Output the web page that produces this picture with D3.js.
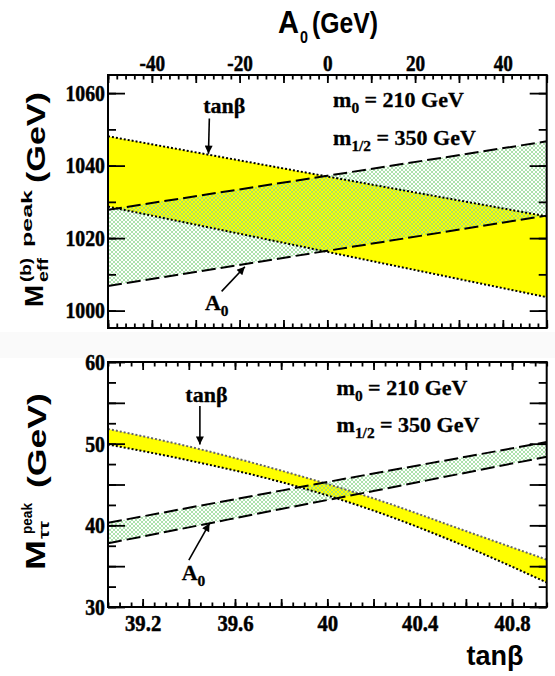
<!DOCTYPE html>
<html><head><meta charset="utf-8">
<script src="https://cdn.jsdelivr.net/npm/d3@7"></script>
<style>
body{margin:0;background:#fff;}
svg{display:block;}
</style></head><body>
<script>
// ---------- DATA ----------
// Top panel: x = A0 (GeV), y = M_eff^(b) peak (GeV)
const topA0 = [-50, 0, 50];
const topTanbUpper = [1048.1, 1037.0, 1026.0];   // dotted (tanβ band) upper edge
const topTanbLower = [1028.7, 1016.2, 1003.7];   // dotted lower edge
const topA0Upper   = [1027.8, 1037.2, 1046.7];   // dashed (A0 band) upper edge
const topA0Lower   = [1006.8, 1016.5, 1026.2];   // dashed lower edge

// Bottom panel: x = tanβ, y = M_ττ peak (GeV)
const botTanb      = [39.05, 39.4, 39.8, 40.2, 40.6, 40.95];
const botTanbUpper = [51.8, 49.65, 46.7, 43.3, 39.3, 35.8];
const botTanbLower = [49.9, 47.95, 45.3, 41.8, 37.4, 33.0];
const botA0Upper   = [40.3, 42.15, 44.25, 46.35, 48.4, 50.2];
const botA0Lower   = [37.8, 39.75, 42.0, 44.2, 46.45, 48.4];

// Tick labels
const topXTicks = [-40, -20, 0, 20, 40];
const topYTicks = [1000, 1020, 1040, 1060];
const botXTicks = [39.2, 39.6, 40, 40.4, 40.8];
const botYTicks = [30, 40, 50, 60];

// ---------- LAYOUT ----------
const W = 555, H = 676;
const L = 108, R = 546.7;
const svg = d3.select("body").append("svg").attr("width", W).attr("height", H);

// faint separator strip between panels
svg.append("rect").attr("x", 0).attr("y", 332).attr("width", W).attr("height", 26).attr("fill", "#fafafa");

const xTop = d3.scaleLinear().domain([-50, 50]).range([L, R]);
const yTop = d3.scaleLinear().domain([995.2, 1065]).range([328, 75]);
const xBot = d3.scaleLinear().domain([39.05, 40.95]).range([L, R]);
const yBot = d3.scaleLinear().domain([30, 60]).range([607, 362]);

const defs = svg.append("defs");
const pat = defs.append("pattern").attr("id", "hatch").attr("patternUnits", "userSpaceOnUse")
  .attr("width", 4).attr("height", 4);
pat.append("path").attr("d", "M0,0L4,4M4,0L0,4").attr("stroke", "#8ad68a").attr("stroke-width", 0.7).attr("fill", "none");

defs.append("marker").attr("id", "arrow").attr("viewBox", "0 0 10 10").attr("refX", 10).attr("refY", 5)
  .attr("markerWidth", 10).attr("markerHeight", 8).attr("markerUnits", "userSpaceOnUse").attr("orient", "auto")
  .append("path").attr("d", "M0,0L10,5L0,10z").attr("fill", "#000");

defs.append("clipPath").attr("id", "clipTop").append("rect")
  .attr("x", L).attr("y", 75).attr("width", R - L).attr("height", 253);
defs.append("clipPath").attr("id", "clipBot").append("rect")
  .attr("x", L).attr("y", 362).attr("width", R - L).attr("height", 245);

const zip = (xs, a, b) => xs.map((x, i) => ({x, a: a[i], b: b[i]}));

function drawPanel(clipId, xs, xScale, yScale, tU, tL, aU, aL, curve, upperDotColor) {
  const g = svg.append("g").attr("clip-path", `url(#${clipId})`);
  const tb = zip(xs, tL, tU), ab = zip(xs, aL, aU);
  const area = d3.area().curve(curve).x(d => xScale(d.x)).y0(d => yScale(d.a)).y1(d => yScale(d.b));
  g.append("path").datum(tb).attr("d", area).attr("fill", "#ffff00");
  g.append("path").datum(ab).attr("d", area).attr("fill", "url(#hatch)");
  const line = (key) => d3.line().curve(curve).x(d => xScale(d.x)).y(d => yScale(d[key]));
  g.append("path").datum(tb).attr("d", line("b")).attr("fill", "none")
    .attr("stroke", upperDotColor).attr("stroke-width", 2).attr("stroke-dasharray", "2,2");
  g.append("path").datum(tb).attr("d", line("a")).attr("fill", "none")
    .attr("stroke", "#000").attr("stroke-width", 2).attr("stroke-dasharray", "2,2");
  g.append("path").datum(ab).attr("d", line("b")).attr("fill", "none")
    .attr("stroke", "#000").attr("stroke-width", 2).attr("stroke-dasharray", "14,5");
  g.append("path").datum(ab).attr("d", line("a")).attr("fill", "none")
    .attr("stroke", "#000").attr("stroke-width", 2).attr("stroke-dasharray", "14,5");
}

drawPanel("clipTop", topA0, xTop, yTop, topTanbUpper, topTanbLower, topA0Upper, topA0Lower, d3.curveLinear, "#000");
drawPanel("clipBot", botTanb, xBot, yBot, botTanbUpper, botTanbLower, botA0Upper, botA0Lower, d3.curveMonotoneX, "#666");

// ---------- TICKS ----------
function tickMarks(axisFn, scale, values, size, tx, ty) {
  const g = svg.append("g").attr("transform", `translate(${tx},${ty})`)
    .call(axisFn(scale).tickValues(values).tickSize(size).tickFormat(""));
  g.select(".domain").remove();
  g.selectAll("line").attr("stroke", "#000").attr("stroke-width", 1.8);
}
const rangeStep = (a, b, s) => d3.range(Math.round((b - a) / s) + 1).map(i => +(a + i * s).toFixed(4));

// top panel x ticks (A0)
const a0Minor = rangeStep(-50, 50, 2), a0Major = rangeStep(-50, 50, 10);
tickMarks(d3.axisBottom, xTop, a0Minor, 4.5, 0, 75);
tickMarks(d3.axisBottom, xTop, a0Major, 8, 0, 75);
tickMarks(d3.axisTop, xTop, a0Minor, 4.5, 0, 328);
tickMarks(d3.axisTop, xTop, a0Major, 8, 0, 328);
// top panel y ticks
const mMinor = rangeStep(1000, 1060, 10), mMajor = rangeStep(1000, 1060, 20);
tickMarks(d3.axisRight, yTop, mMinor, 8, L, 0);
tickMarks(d3.axisRight, yTop, mMajor, 17, L, 0);
tickMarks(d3.axisLeft, yTop, mMinor, 8, R, 0);
tickMarks(d3.axisLeft, yTop, mMajor, 17, R, 0);
// bottom panel x ticks (tanβ)
const tbMinor = rangeStep(39.05, 40.95, 0.05), tbMajor = rangeStep(39.2, 40.8, 0.2);
tickMarks(d3.axisBottom, xBot, tbMinor, 4.5, 0, 362);
tickMarks(d3.axisBottom, xBot, tbMajor, 8, 0, 362);
tickMarks(d3.axisTop, xBot, tbMinor, 4.5, 0, 607);
tickMarks(d3.axisTop, xBot, tbMajor, 8, 0, 607);
// bottom panel y ticks
const tMinor = rangeStep(30, 60, 2.5), tMajor = rangeStep(30, 60, 5);
tickMarks(d3.axisRight, yBot, tMinor, 8, L, 0);
tickMarks(d3.axisRight, yBot, tMajor, 17, L, 0);
tickMarks(d3.axisLeft, yBot, tMinor, 8, R, 0);
tickMarks(d3.axisLeft, yBot, tMajor, 17, R, 0);

// ---------- TICK LABELS ----------
function condense(sel, f) {
  sel.each(function () {
    const w = this.getComputedTextLength();
    this.setAttribute("textLength", w * f);
    this.setAttribute("lengthAdjust", "spacingAndGlyphs");
  });
}
function tickLabels(axisFn, scale, values, pad, tx, ty, size, f) {
  const g = svg.append("g").attr("transform", `translate(${tx},${ty})`)
    .call(axisFn(scale).tickValues(values).tickSize(0).tickPadding(pad).tickFormat(d => String(d)));
  g.select(".domain").remove();
  g.selectAll("line").remove();
  g.selectAll("text").attr("font-family", "'Liberation Serif', 'Times New Roman', serif")
    .attr("font-weight", "bold").attr("font-size", size).attr("fill", "#000")
    .attr("stroke", "#000").attr("stroke-width", 0.5);
  condense(g.selectAll("text"), f);
}
tickLabels(d3.axisTop, xTop, topXTicks, 4, 0, 75, 24, 0.8);
tickLabels(d3.axisLeft, yTop, topYTicks, 3, L, 0, 23, 0.86);
tickLabels(d3.axisLeft, yBot, botYTicks, 3, L, 0, 23, 0.86);
tickLabels(d3.axisBottom, xBot, botXTicks, 8, 0, 607, 23, 0.9);

// ---------- FRAMES ----------
svg.append("rect").attr("x", L).attr("y", 75).attr("width", R - L).attr("height", 253)
  .attr("fill", "none").attr("stroke", "#000").attr("stroke-width", 2);
svg.append("rect").attr("x", L).attr("y", 362).attr("width", R - L).attr("height", 245)
  .attr("fill", "none").attr("stroke", "#000").attr("stroke-width", 2);

// ---------- AXIS TITLES ----------
const SANS = "'Liberation Sans', Arial, Helvetica, sans-serif";
const SERIF = "'Liberation Serif', 'Times New Roman', serif";
function txt(parent, x, y, s, size, len, family) {
  const t = parent.append("text").attr("x", x).attr("y", y).text(s)
    .attr("font-family", family || SANS).attr("font-weight", "bold").attr("font-size", size).attr("fill", "#000");
  if (len) t.attr("textLength", len).attr("lengthAdjust", "spacingAndGlyphs");
  return t;
}
// top: A0 (GeV)
txt(svg, 278, 33, "A", 31, 21);
txt(svg, 300, 43, "0", 17, 8);
txt(svg, 312, 33, "(GeV)", 30, 66);
// bottom: tanβ
txt(svg, 466.5, 665, "tanβ", 27, 57);

// top y title: M_eff^(b) peak (GeV)
const gt = svg.append("g").attr("transform", "translate(44,307) rotate(-90)");
txt(gt, 0, -1, "M", 26, 22);
txt(gt, 25, 4, "eff", 15, 24);
txt(gt, 25, -13, "(b)", 15, 24);
txt(gt, 60, -12, "peak", 15, 57);
txt(gt, 124, 1, "(GeV)", 25, 91);

// bottom y title: M_ττ^peak (GeV)
const gb = svg.append("g").attr("transform", "translate(45,570) rotate(-90)");
txt(gb, 0, 0, "M", 28, 30);
txt(gb, 31, 4, "ττ", 15, 18);
txt(gb, 36, -13, "peak", 14, 31);
txt(gb, 82, 1, "(GeV)", 25, 95);

// ---------- ANNOTATIONS ----------
function note(parent, xS, yS, x, y, parts, size) {
  const t = parent.append("text").attr("x", xS(x)).attr("y", yS(y))
    .attr("font-family", SERIF).attr("font-weight", "bold").attr("font-size", size).attr("fill", "#000")
    .attr("stroke", "#000").attr("stroke-width", 0.3);
  parts.forEach(p => {
    const ts = t.append("tspan").text(p.t);
    if (p.sub) ts.attr("font-size", size * 0.7).attr("dy", 6);
    if (p.back) ts.attr("dy", -6);
  });
  return t;
}
function arrow(xS, yS, x1, y1, x2, y2) {
  svg.append("line").attr("x1", xS(x1)).attr("y1", yS(y1)).attr("x2", xS(x2)).attr("y2", yS(y2))
    .attr("stroke", "#000").attr("stroke-width", 1.6).attr("marker-end", "url(#arrow)");
}
// top panel
note(svg, xTop, yTop, -28.3, 1054.6, [{t: "tanβ"}], 22);
arrow(xTop, yTop, -26.9, 1053.0, -27.1, 1043.3);
note(svg, xTop, yTop, -27.9, 1000.3, [{t: "A"}, {t: "0", sub: true}], 22);
arrow(xTop, yTop, -24.1, 1005.3, -18.8, 1012.1);
note(svg, xTop, yTop, 1.3, 1056.3, [{t: "m"}, {t: "0", sub: true}, {t: " = 210 GeV", back: true}], 22);
note(svg, xTop, yTop, 1.3, 1045.7, [{t: "m"}, {t: "1/2", sub: true}, {t: " = 350 GeV", back: true}], 22);
// bottom panel
note(svg, xBot, yBot, 39.385, 55.14, [{t: "tanβ"}], 22);
arrow(xBot, yBot, 39.448, 54.6, 39.448, 49.9);
note(svg, xBot, yBot, 39.369, 33.3, [{t: "A"}, {t: "0", sub: true}], 22);
arrow(xBot, yBot, 39.40, 35.75, 39.49, 40.25);
note(svg, xBot, yBot, 40.04, 55.96, [{t: "m"}, {t: "0", sub: true}, {t: " = 210 GeV", back: true}], 22);
note(svg, xBot, yBot, 40.04, 51.46, [{t: "m"}, {t: "1/2", sub: true}, {t: " = 350 GeV", back: true}], 22);
</script>
</body></html>
